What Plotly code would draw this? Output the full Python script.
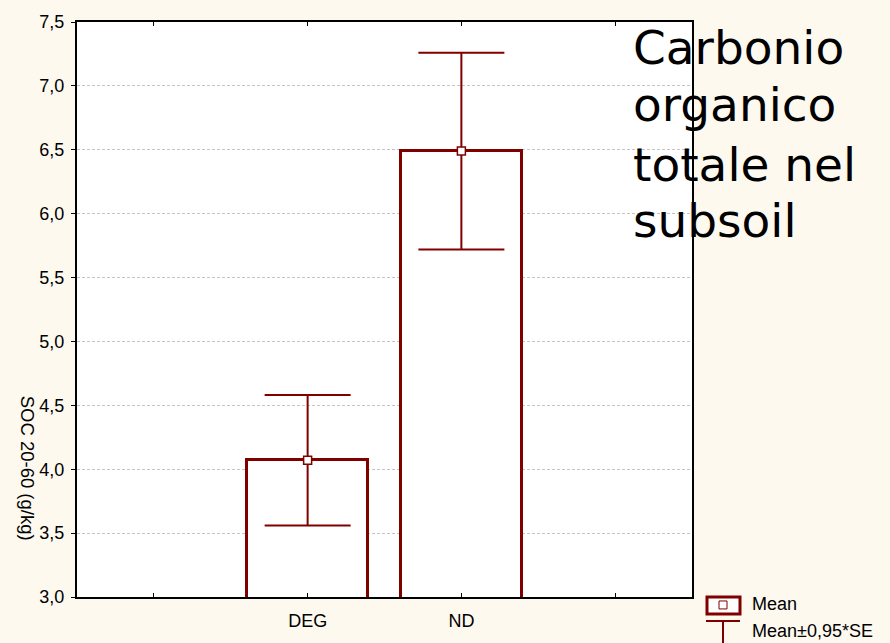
import plotly.graph_objects as go

# Soil organic carbon, 20-60 cm depth
categories = ["DEG", "ND"]
positions = [1.5, 2.5]
soc_mean = [4.07, 6.49]
soc_err = [0.51, 0.77]          # 0.95 * SE
tick_vals_x = [0.5, 1.5, 2.5, 3.5]
tick_text_x = ["", "DEG", "ND", ""]
tick_vals_y = [3.0, 3.5, 4.0, 4.5, 5.0, 5.5, 6.0, 6.5, 7.0, 7.5]
tick_text_y = [f"{v:.1f}".replace(".", ",") for v in tick_vals_y]
title_lines = ["Carbonio", "organico", "totale nel", "subsoil"]

RED = "#800000"
BG = "#FDF9EF"
FONT = "Liberation Sans, Arial, sans-serif"

W, H = 890, 643
L, R, T, B = 77, 198, 20, 45
pw, ph = W - L - R, H - T - B


def px(x):
    return (x - L) / pw


def py(y):
    return (H - B - y) / ph


fig = go.Figure()

fig.add_trace(go.Bar(
    x=positions, y=soc_mean, width=0.79,
    marker=dict(color="white", line=dict(color=RED, width=3)),
    hoverinfo="skip", showlegend=False,
))

fig.add_trace(go.Scatter(
    x=positions, y=soc_mean, mode="markers",
    marker=dict(symbol="square", size=8, color="white",
                line=dict(color=RED, width=1.5)),
    error_y=dict(type="data", array=soc_err, visible=True,
                 color=RED, thickness=2, width=43),
    showlegend=False,
))

shapes = [
    # legend: mean box
    dict(type="rect", xref="paper", yref="paper",
         x0=px(707), x1=px(740), y0=py(598), y1=py(615),
         line=dict(color=RED, width=3), fillcolor="white"),
    dict(type="rect", xref="paper", yref="paper",
         x0=px(719), x1=px(727), y0=py(602), y1=py(610),
         line=dict(color=RED, width=1), fillcolor="white"),
    # legend: error whisker
    dict(type="line", xref="paper", yref="paper",
         x0=px(706), x1=px(740), y0=py(622), y1=py(622),
         line=dict(color=RED, width=2)),
    dict(type="line", xref="paper", yref="paper",
         x0=px(723), x1=px(723), y0=py(622), y1=py(650),
         line=dict(color=RED, width=2)),
]

annotations = []
# large caption, one line at a time (centre of each line in px)
for line, yc in zip(title_lines, [46, 103, 163, 220]):
    annotations.append(dict(
        text=line, xref="paper", yref="paper", x=px(631), y=py(yc),
        xanchor="left", yanchor="middle", align="left", showarrow=False,
        font=dict(family="DejaVu Sans", size=47, color="black")))

annotations += [
    dict(text="SOC 20-60 (g/kg)", textangle=90,
         xref="paper", yref="paper", x=px(27), y=py(468),
         xanchor="center", yanchor="middle", showarrow=False,
         font=dict(family=FONT, size=18.5, color="black")),
    dict(text="Mean", xref="paper", yref="paper", x=px(750), y=py(605),
         xanchor="left", yanchor="middle", showarrow=False,
         font=dict(family=FONT, size=18, color="black")),
    dict(text="Mean±0,95*SE", xref="paper", yref="paper", x=px(750), y=py(632),
         xanchor="left", yanchor="middle", showarrow=False,
         font=dict(family=FONT, size=18, color="black")),
]

fig.update_layout(
    width=W, height=H,
    margin=dict(l=L, r=R, t=T, b=B, pad=0),
    paper_bgcolor=BG, plot_bgcolor="white",
    font=dict(family=FONT, size=18, color="black"),
    shapes=shapes, annotations=annotations,
    bargap=0,
)

fig.update_xaxes(
    range=[0, 4], tickvals=tick_vals_x, ticktext=tick_text_x,
    ticks="inside", ticklen=4, tickcolor="black", tickwidth=1,
    showline=True, linecolor="black", linewidth=2, mirror="ticks",
    showgrid=False, zeroline=False, ticklabelstandoff=6,
    tickfont=dict(size=18),
)
fig.update_yaxes(
    range=[3.0, 7.5], tickvals=tick_vals_y, ticktext=tick_text_y,
    ticks="outside", ticklen=4, tickcolor="black", tickwidth=1,
    showline=True, linecolor="black", linewidth=2, mirror=True,
    showgrid=True, gridcolor="#C4C4C4", gridwidth=1, griddash="3px,2px",
    zeroline=False, ticklabelstandoff=3,
    tickfont=dict(size=18),
)

fig.write_html("out.html")
